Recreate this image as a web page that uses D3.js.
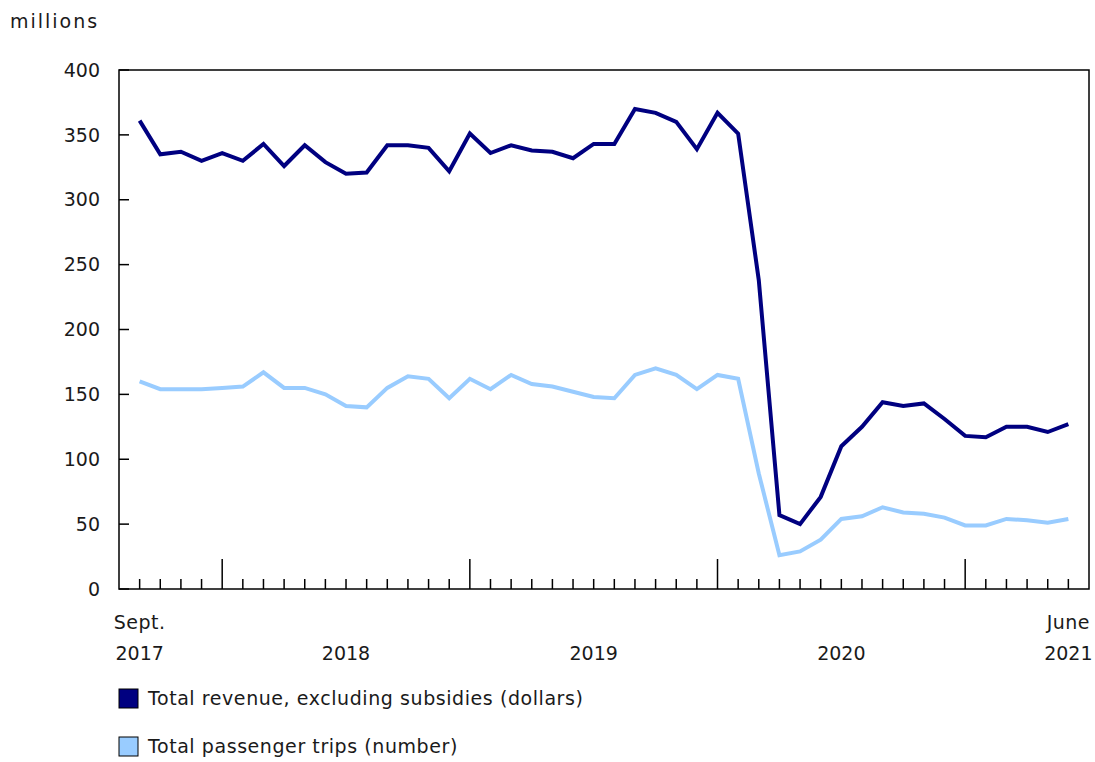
<!DOCTYPE html>
<html><head><meta charset="utf-8">
<script src="https://cdn.jsdelivr.net/npm/d3@7"></script>
<style>
body{margin:0;background:#fff;}
text{font-family:"DejaVu Sans",Verdana,sans-serif;fill:#1a1a1a;}
</style></head>
<body><svg id="c" width="1095" height="762"></svg>
<script>
const months = ["2017-09","2017-10","2017-11","2017-12","2018-01","2018-02","2018-03","2018-04","2018-05","2018-06","2018-07","2018-08","2018-09","2018-10","2018-11","2018-12","2019-01","2019-02","2019-03","2019-04","2019-05","2019-06","2019-07","2019-08","2019-09","2019-10","2019-11","2019-12","2020-01","2020-02","2020-03","2020-04","2020-05","2020-06","2020-07","2020-08","2020-09","2020-10","2020-11","2020-12","2021-01","2021-02","2021-03","2021-04","2021-05","2021-06"];
const revenue = [361,335,337,330,336,330,343,326,342,329,320,321,342,342,340,322,351,336,342,338,337,332,343,343,370,367,360,339,367,351,238,57,50,71,110,125,144,141,143,131,118,117,125,125,121,127];
const passengers = [160,154,154,154,155,156,167,155,155,150,141,140,155,164,162,147,162,154,165,158,156,152,148,147,165,170,165,154,165,162,89,26,29,38,54,56,63,59,58,55,49,49,54,53,51,54];
const yTicks = [0,50,100,150,200,250,300,350,400];
const xLabels = [{m:"2017-09",l1:"Sept.",l2:"2017"},{m:"2018-07",l1:"",l2:"2018"},{m:"2019-07",l1:"",l2:"2019"},{m:"2020-07",l1:"",l2:"2020"},{m:"2021-06",l1:"June",l2:"2021"}];
const series = [
  {name:"Total revenue, excluding subsidies (dollars)", values:revenue, color:"#000080"},
  {name:"Total passenger trips (number)", values:passengers, color:"#99ccff"}
];

const svg = d3.select("#c");
const L=119,R=1089,T=70,B=589;
const x = d3.scalePoint().domain(months).range([L,R]).padding(1);
const y = d3.scaleLinear().domain([0,400]).range([B,T]);

svg.append("text").attr("x",10).attr("y",28).style("font-size","19px").style("letter-spacing","2px").text("millions");

const gy = svg.append("g");
yTicks.forEach(v=>{
  gy.append("line").attr("x1",L).attr("x2",L+10).attr("y1",y(v)).attr("y2",y(v)).attr("stroke","#000").attr("stroke-width",1.5);
  gy.append("text").attr("x",L-19).attr("y",y(v)).attr("dy","0.35em").attr("text-anchor","end").style("font-size","19px").text(v);
});

months.forEach(m=>{
  const major = m.endsWith("-01");
  svg.append("line").attr("x1",x(m)).attr("x2",x(m)).attr("y1",B).attr("y2",major?B-30:B-10).attr("stroke","#000").attr("stroke-width",1.5);
});
xLabels.forEach(d=>{
  if(d.l1) svg.append("text").attr("x",x(d.m)).attr("y",629).attr("text-anchor","middle").style("font-size","19px").style("letter-spacing","0.5px").text(d.l1);
  svg.append("text").attr("x",x(d.m)).attr("y",660).attr("text-anchor","middle").style("font-size","19px").text(d.l2);
});

svg.append("rect").attr("x",L).attr("y",T).attr("width",R-L).attr("height",B-T).attr("fill","none").attr("stroke","#000").attr("stroke-width",1.5);

const line = d3.line().x((d,i)=>x(months[i])).y(d=>y(d));
series.slice().reverse().forEach(s=>{
  svg.append("path").datum(s.values).attr("d",line).attr("fill","none").attr("stroke",s.color).attr("stroke-width",4).attr("stroke-linejoin","miter");
});

series.forEach((s,i)=>{
  const yy = 689 + i*48;
  svg.append("rect").attr("x",119).attr("y",yy).attr("width",19).attr("height",19).attr("fill",s.color).attr("stroke","#000").attr("stroke-width",1);
  svg.append("text").attr("x",148).attr("y",yy+16).style("font-size","19px").style("letter-spacing","0.57px").text(s.name);
});
</script></body></html>
